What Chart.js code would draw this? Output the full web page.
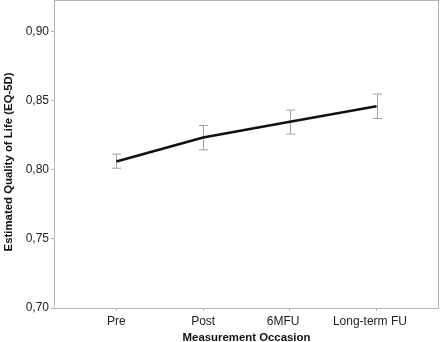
<!DOCTYPE html>
<html>
<head>
<meta charset="utf-8">
<script src="https://cdn.jsdelivr.net/npm/chart.js@4"></script>
<style>
  html, body { margin: 0; padding: 0; background: #fff; }
  #wrap { width: 440px; height: 342px; }
</style>
</head>
<body>
<div id="wrap"><canvas id="qolChart"></canvas></div>
<script>
// measurement occasions and estimated EQ-5D means with CI limits
const occasions = ["Pre", "Post", "6MFU", "Long-term FU"];
const estimates = [0.806, 0.8234, 0.8348, 0.8461];
const lowerCI = [0.8012, 0.8145, 0.8259, 0.8372];
const upperCI = [0.8114, 0.8321, 0.8433, 0.8549];
const yTicks = [0.70, 0.75, 0.80, 0.85, 0.90];
// the last two labels sit a little left of their ticks
const labelShift = ["", "", "    ", "    "];

const fontFamily = "'Liberation Sans', Arial, sans-serif";

// whiskers drawn through the chart scales
const errorBars = {
  id: "errorBars",
  beforeDatasetsDraw(chart) {
    const { ctx, scales: { x, y } } = chart;
    ctx.save();
    ctx.strokeStyle = "#a0a0a0";
    ctx.lineWidth = 1;
    occasions.forEach((_, i) => {
      const px = Math.round(x.getPixelForValue(i)) + 0.5;
      const top = y.getPixelForValue(upperCI[i]);
      const bot = y.getPixelForValue(lowerCI[i]);
      ctx.beginPath();
      ctx.moveTo(px, top); ctx.lineTo(px, bot);
      ctx.moveTo(px - 4.5, top); ctx.lineTo(px + 4.5, top);
      ctx.moveTo(px - 4.5, bot); ctx.lineTo(px + 4.5, bot);
      ctx.stroke();
    });
    ctx.restore();
  }
};

// grey box round the plot area
const frame = {
  id: "frame",
  afterDraw(chart) {
    const { ctx, chartArea: a } = chart;
    ctx.save();
    ctx.strokeStyle = "#b4b4b4";
    ctx.lineWidth = 1;
    ctx.strokeRect(a.left + 0.5, a.top + 0.5, a.right - a.left - 1, a.bottom - a.top);
    ctx.restore();
  }
};

const ctx = document.getElementById("qolChart").getContext("2d");
new Chart(ctx, {
  type: "line",
  data: {
    datasets: [{
      data: estimates.map((v, i) => ({ x: i, y: v })),
      borderColor: "#111",
      borderWidth: 2.6,
      pointRadius: 0,
      tension: 0,
      fill: false
    }]
  },
  options: {
    responsive: true,
    maintainAspectRatio: false,
    animation: false,
    layout: { padding: { top: 0, right: 1, bottom: 0, left: 0 } },
    plugins: { legend: { display: false }, tooltip: { enabled: false } },
    scales: {
      x: {
        type: "linear",
        min: -0.72,
        max: 3.72,
        afterBuildTicks: s => { s.ticks = occasions.map((_, i) => ({ value: i })); },
        afterFit: s => { s.height = 34; s.paddingLeft = 0; s.paddingRight = 0; },
        border: { display: false },
        grid: { drawOnChartArea: false, tickLength: 3, color: "#b4b4b4" },
        ticks: {
          padding: 3,
          color: "#222",
          font: { family: fontFamily, size: 12 },
          callback: v => occasions[v] + labelShift[v]
        },
        title: {
          display: true,
          text: "Measurement Occasion",
          color: "#111",
          font: { family: fontFamily, size: 11.4, weight: "bold", lineHeight: 0.75 },
          padding: { top: 0, bottom: 0 }
        }
      },
      y: {
        min: 0.70,
        max: 0.923,
        afterBuildTicks: s => { s.ticks = yTicks.map(v => ({ value: v })); },
        afterFit: s => { s.width = 54; s.paddingTop = 0; s.paddingBottom = 0; },
        border: { display: false },
        grid: { drawOnChartArea: false, tickLength: 3, color: "#b4b4b4" },
        ticks: {
          padding: 2,
          color: "#222",
          font: { family: fontFamily, size: 12 },
          callback: v => v.toFixed(2).replace(".", ",")
        },
        title: {
          display: true,
          text: "Estimated Quality of Life (EQ-5D)     ",
          color: "#111",
          font: { family: fontFamily, size: 11.4, weight: "bold", lineHeight: 1 },
          padding: { top: 3, bottom: 0 }
        }
      }
    }
  },
  plugins: [errorBars, frame]
});
</script>
</body>
</html>
